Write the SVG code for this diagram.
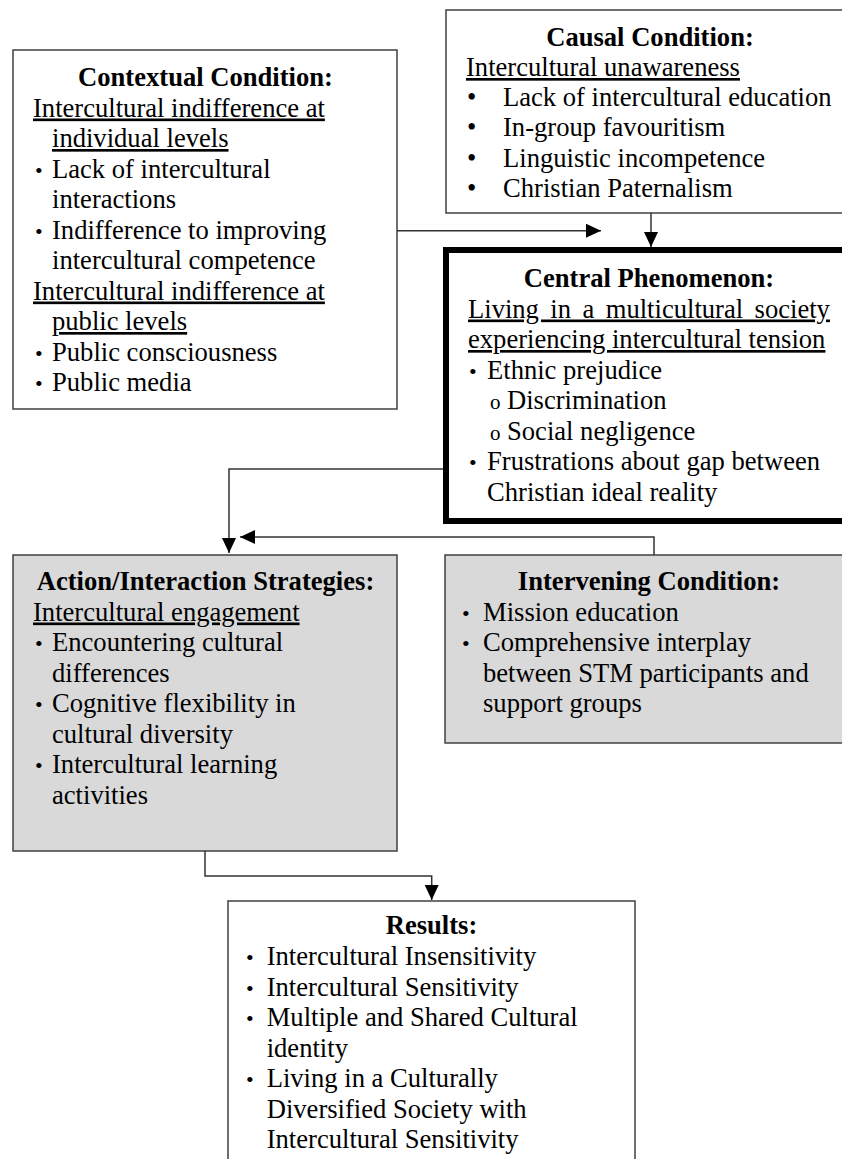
<svg xmlns="http://www.w3.org/2000/svg" width="842" height="1159" viewBox="0 0 842 1159">
<style>
text{font-family:"Liberation Serif","Times New Roman",serif;font-size:26.6px;fill:#000}
.t{font-weight:bold;text-anchor:middle}
.u{text-decoration:underline}
.b{font-size:22px}
.bb{font-size:26.6px}
.o{font-size:21px}
.box{fill:#fff;stroke:#404040;stroke-width:1.5}
.grey{fill:#d9d9d9;stroke:#404040;stroke-width:1.5}
.thick{fill:#fff;stroke:#000;stroke-width:6}
.c{fill:none;stroke:#333;stroke-width:1.5}
</style>
<defs>
<marker id="ah" viewBox="0 0 16 16" markerWidth="16" markerHeight="16" refX="15" refY="8" orient="auto" markerUnits="userSpaceOnUse">
<path d="M0,1 L15,8 L0,15 z" fill="#000"/>
</marker>
</defs>
<rect width="842" height="1159" fill="#fff"/>

<g id="causal">
<rect class="box" x="446" y="10" width="410" height="203"/>
<text class="t" x="650" y="46">Causal Condition:</text>
<text class="u" x="466" y="76">Intercultural unawareness</text>
<text class="bb" x="467" y="106">•</text><text x="503" y="106">Lack of intercultural education</text>
<text class="bb" x="467" y="136">•</text><text x="503" y="136">In-group favouritism</text>
<text class="bb" x="467" y="167">•</text><text x="503" y="167">Linguistic incompetence</text>
<text class="bb" x="467" y="197">•</text><text x="503" y="197">Christian Paternalism</text>
</g>

<g id="contextual">
<rect class="box" x="13" y="50" width="384" height="359"/>
<text class="t" x="205.5" y="86">Contextual Condition:</text>
<text class="u" x="33" y="116.5">Intercultural indifference at</text>
<text class="u" x="52" y="147">individual levels</text>
<text class="b" x="35" y="177.5">•</text><text x="52" y="177.5">Lack of intercultural</text>
<text x="52" y="208">interactions</text>
<text class="b" x="35" y="238.5">•</text><text x="52" y="238.5">Indifference to improving</text>
<text x="52" y="269">intercultural competence</text>
<text class="u" x="33" y="299.5">Intercultural indifference at</text>
<text class="u" x="52" y="330">public levels</text>
<text class="b" x="35" y="360.5">•</text><text x="52" y="360.5">Public consciousness</text>
<text class="b" x="35" y="391">•</text><text x="52" y="391">Public media</text>
</g>

<g id="central">
<rect class="thick" x="446" y="250" width="410" height="271"/>
<text class="t" x="649" y="287">Central Phenomenon:</text>
<text class="u" x="468" y="317.5" word-spacing="4.8">Living in a multicultural society</text>
<text class="u" x="468" y="348">experiencing intercultural tension</text>
<text class="b" x="469" y="378.5">•</text><text x="487" y="378.5">Ethnic prejudice</text>
<text class="o" x="490" y="409">o</text><text x="507" y="409">Discrimination</text>
<text class="o" x="490" y="439.5">o</text><text x="507" y="439.5">Social negligence</text>
<text class="b" x="469" y="470">•</text><text x="487" y="470">Frustrations about gap between</text>
<text x="487" y="500.5">Christian ideal reality</text>
</g>

<g id="action">
<rect class="grey" x="13" y="555" width="384" height="296"/>
<text class="t" x="205.5" y="590">Action/Interaction Strategies:</text>
<text class="u" x="33" y="620.5">Intercultural engagement</text>
<text class="b" x="35" y="651">•</text><text x="52" y="651">Encountering cultural</text>
<text x="52" y="681.5">differences</text>
<text class="b" x="35" y="712">•</text><text x="52" y="712">Cognitive flexibility in</text>
<text x="52" y="742.5">cultural diversity</text>
<text class="b" x="35" y="773">•</text><text x="52" y="773">Intercultural learning</text>
<text x="52" y="803.5">activities</text>
</g>

<g id="intervening">
<rect class="grey" x="445" y="555" width="410" height="188"/>
<text class="t" x="649" y="590">Intervening Condition:</text>
<text class="b" x="462" y="620.5">•</text><text x="483" y="620.5">Mission education</text>
<text class="b" x="462" y="651">•</text><text x="483" y="651">Comprehensive interplay</text>
<text x="483" y="681.5">between STM participants and</text>
<text x="483" y="712">support groups</text>
</g>

<g id="results">
<rect class="box" x="228" y="901" width="407" height="300"/>
<text class="t" x="431.5" y="934">Results:</text>
<text class="b" x="246" y="965">•</text><text x="266.7" y="965">Intercultural Insensitivity</text>
<text class="b" x="246" y="995.5">•</text><text x="266.7" y="995.5">Intercultural Sensitivity</text>
<text class="b" x="246" y="1026">•</text><text x="266.7" y="1026">Multiple and Shared Cultural</text>
<text x="266.7" y="1056.5">identity</text>
<text class="b" x="246" y="1087">•</text><text x="266.7" y="1087">Living in a Culturally</text>
<text x="266.7" y="1117.5">Diversified Society with</text>
<text x="266.7" y="1148">Intercultural Sensitivity</text>
</g>

<g id="connectors">
<path class="c" d="M397,230.7 H601" marker-end="url(#ah)"/>
<path class="c" d="M651,213 V247" marker-end="url(#ah)"/>
<path class="c" d="M443,469 H229 V553" marker-end="url(#ah)"/>
<path class="c" d="M654,555 V537 H240" marker-end="url(#ah)"/>
<path class="c" d="M205,851 V876 H431.7 V900" marker-end="url(#ah)"/>
</g>
</svg>
